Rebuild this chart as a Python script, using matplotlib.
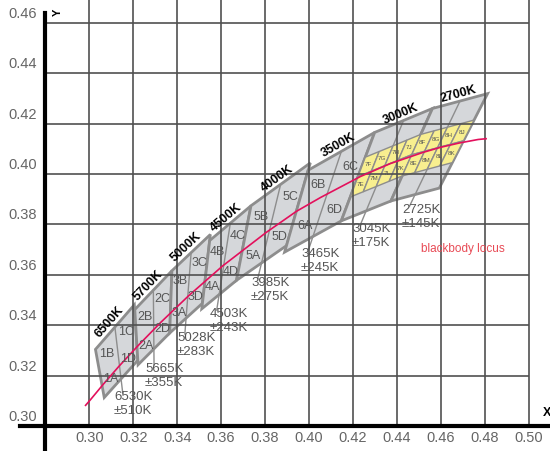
"""
ANSI C78.377 chromaticity quadrangles on the CIE 1931 x,y diagram
with sub-bins, CCT tolerances and the blackbody locus.
"""
import matplotlib

matplotlib.use("Agg")
import matplotlib.pyplot as plt
from matplotlib.patches import Polygon
from matplotlib.transforms import offset_copy
import numpy as np

plt.rcParams["font.family"] = ["Liberation Sans", "DejaVu Sans"]

GRAY_FILL = "#d5d7da"
GRAY_EDGE = "#8d8d8d"
YELLOW_FILL = "#f8ef8f"
TEXT_GRAY = "#555555"
LOCUS_COLOR = "#e3105c"

# nominal CCT quadrangles, corners in order TL, TR, BR, BL
cct_names = ["6500K", "5700K", "5000K", "4500K", "4000K", "3500K", "3000K", "2700K"]
bin_prefix = ["1", "2", "3", "4", "5", "6", "7", "8"]
quad_x = [
    [0.3028, 0.3205, 0.3221, 0.3068],
    [0.3207, 0.3376, 0.3366, 0.3222],
    [0.3376, 0.3551, 0.3515, 0.3366],
    [0.3548, 0.3736, 0.3670, 0.3512],
    [0.3736, 0.4006, 0.3898, 0.3670],
    [0.3996, 0.4299, 0.4147, 0.3889],
    [0.4299, 0.4562, 0.4373, 0.4147],
    [0.4562, 0.4813, 0.4593, 0.4373],
]
quad_y = [
    [0.3304, 0.3481, 0.3261, 0.3113],
    [0.3462, 0.3616, 0.3369, 0.3243],
    [0.3616, 0.3760, 0.3487, 0.3369],
    [0.3736, 0.3874, 0.3578, 0.3465],
    [0.3874, 0.4044, 0.3716, 0.3578],
    [0.4015, 0.4165, 0.3814, 0.3690],
    [0.4165, 0.4260, 0.3893, 0.3814],
    [0.4260, 0.4319, 0.3944, 0.3893],
]

# CCT and tolerance labels (left edge x, first line y)
tol_top = ["6530K", "5665K", "5028K", "4503K", "3985K", "3465K", "3045K", "2725K"]
tol_bottom = ["±510K", "±355K", "±283K", "±243K", "±275K", "±245K", "±175K", "±145K"]
tol_x = [0.3112, 0.3254, 0.3399, 0.3549, 0.3736, 0.3964, 0.4196, 0.4423]
tol_y = [0.3115, 0.3226, 0.3349, 0.3444, 0.3568, 0.3683, 0.3782, 0.3857]

# four-quarter sub-bins (u along CCT, v from top edge to bottom edge)
sub_letters = ["A", "B", "C", "D"]
sub_u = [0.25, 0.25, 0.75, 0.75]
sub_v = [0.75, 0.25, 0.25, 0.75]

# small bins inside 3000K / 2700K
small_top = ["F", "G", "H", "J"]
small_bottom = ["E", "M", "L", "K"]
small_u = [0.0, 0.25, 0.5, 0.75, 1.0]
small_v = [0.28, 0.50, 0.73]

# Planckian locus
locus_x = [0.2983, 0.3004, 0.3064, 0.3135, 0.3221, 0.3325, 0.3451, 0.3608,
           0.3805, 0.3943, 0.4053, 0.4234, 0.4369, 0.4520, 0.4599, 0.4684,
           0.4770, 0.4806]
locus_y = [0.3082, 0.3103, 0.3166, 0.3237, 0.3318, 0.3411, 0.3516, 0.3636,
           0.3768, 0.3852, 0.3907, 0.3990, 0.4041, 0.4086, 0.4106, 0.4123,
           0.4137, 0.4140]

x_ticks = [0.30, 0.32, 0.34, 0.36, 0.38, 0.40, 0.42, 0.44, 0.46, 0.48, 0.50]
y_ticks = [0.30, 0.32, 0.34, 0.36, 0.38, 0.40, 0.42, 0.44, 0.46]


def quad_point(i, u, v):
    """Bilinear point inside quadrangle i."""
    w = [(1 - u) * (1 - v), u * (1 - v), u * v, (1 - u) * v]
    x = sum(wk * xk for wk, xk in zip(w, quad_x[i]))
    y = sum(wk * yk for wk, yk in zip(w, quad_y[i]))
    return x, y


fig = plt.figure(figsize=(5.5, 4.51), dpi=100)
ax = fig.add_axes([0, 0, 1, 1])
ax.set_xlim(0.25935, 0.50970)
ax.set_ylim(0.29008, 0.46905)
ax.axis("off")

# --- quadrangles ---
for i in range(len(cct_names)):
    ax.add_patch(Polygon(list(zip(quad_x[i], quad_y[i])), closed=True,
                         facecolor=GRAY_FILL, edgecolor=GRAY_EDGE, lw=2, zorder=2))

# centre dividers, extended as leaders to the tolerance labels
for i in range(len(cct_names)):
    tx, ty = quad_point(i, 0.5, 0.0)
    bx, by = quad_point(i, 0.5, 1.0)
    end_y = tol_y[i] + 0.0016
    t = (end_y - ty) / (by - ty)
    ex = tx + t * (bx - tx)
    ax.plot([tx, ex], [ty, end_y], color=GRAY_EDGE, lw=1, zorder=2.1)

# small yellow bins for 3000K and 2700K
for i in (6, 7):
    for row, letters in enumerate((small_top, small_bottom)):
        v0, v1 = small_v[row], small_v[row + 1]
        for col in range(4):
            u0, u1 = small_u[col], small_u[col + 1]
            pts = [quad_point(i, u0, v0), quad_point(i, u1, v0),
                   quad_point(i, u1, v1), quad_point(i, u0, v1)]
            ax.add_patch(Polygon(pts, closed=True, facecolor=YELLOW_FILL,
                                 edgecolor=GRAY_EDGE, lw=1, zorder=2.2))
            cx, cy = quad_point(i, (u0 + u1) / 2, (v0 + v1) / 2)
            ax.text(cx, cy, bin_prefix[i] + letters[col], fontsize=4.5,
                    color=TEXT_GRAY, ha="center", va="center", zorder=5)

# --- grid and axes ---
ax.vlines(x_ticks, 0.30, 0.46905, color="#505050", lw=1.2, zorder=3)
ax.hlines(y_ticks[1:], 0.28, 0.50, color="#505050", lw=1.2, zorder=3)
ax.axvline(0.28, ymin=0, ymax=0.971, color="black", lw=3, zorder=4)
ax.axhline(0.30, xmin=20 / 550, xmax=1, color="black", lw=3, zorder=4)

for xt in x_ticks:
    ax.text(xt, 0.30, f"{xt:.2f}", fontsize=10.5, color="#666666", ha="center",
            va="center", transform=offset_copy(ax.transData, fig, y=-12, units="dots"))
for yt in y_ticks:
    ax.text(0.28, yt, f"{yt:.2f}", fontsize=10.5, color="#666666", ha="right",
            va="center", transform=offset_copy(ax.transData, fig, x=-8, y=9, units="dots"))
ax.text(0.50, 0.30, "X", fontsize=9, fontweight="bold", ha="center", va="center",
        transform=offset_copy(ax.transData, fig, x=18, y=13, units="dots"))
ax.text(0.28, 0.46, "Y", fontsize=8, fontweight="bold", rotation=90, ha="center",
        va="center", transform=offset_copy(ax.transData, fig, x=12, y=10, units="dots"))

# --- blackbody locus ---
ax.plot(locus_x, locus_y, color=LOCUS_COLOR, lw=1.2, zorder=4.5)
ax.text(0.4701, 0.3702, "blackbody locus", fontsize=8.5, color="#e84a55",
        ha="center", va="center", zorder=5)

# --- labels ---
for i in range(len(cct_names)):
    # sub-bin labels for the plain quadrangles
    if i < 6:
        for letter, u, v in zip(sub_letters, sub_u, sub_v):
            cx, cy = quad_point(i, u, v)
            ax.text(cx, cy, bin_prefix[i] + letter, fontsize=9, color=TEXT_GRAY,
                    ha="center", va="center", zorder=5,
                    transform=offset_copy(ax.transData, fig, y=-3, units="dots"))

    # CCT name along the top edge
    p0 = ax.transData.transform((quad_x[i][0], quad_y[i][0]))
    p1 = ax.transData.transform((quad_x[i][1], quad_y[i][1]))
    d = p1 - p0
    ang = np.degrees(np.arctan2(d[1], d[0]))
    n = np.array([-d[1], d[0]]) / np.hypot(*d)
    mx, my = quad_point(i, 0.5, 0.0)
    ax.text(mx, my, cct_names[i], fontsize=9, fontweight="bold", rotation=ang,
            rotation_mode="anchor", ha="center", va="center", zorder=5,
            transform=offset_copy(ax.transData, fig, x=7 * n[0], y=7 * n[1], units="dots"))

    # tolerance labels
    ax.text(tol_x[i], tol_y[i], tol_top[i], fontsize=9.5, color=TEXT_GRAY,
            ha="left", va="center", zorder=5)
    ax.text(tol_x[i], tol_y[i], tol_bottom[i], fontsize=9.5, color=TEXT_GRAY,
            ha="left", va="center", zorder=5,
            transform=offset_copy(ax.transData, fig, y=-14, units="dots"))

fig.savefig("out.png", dpi=100)
